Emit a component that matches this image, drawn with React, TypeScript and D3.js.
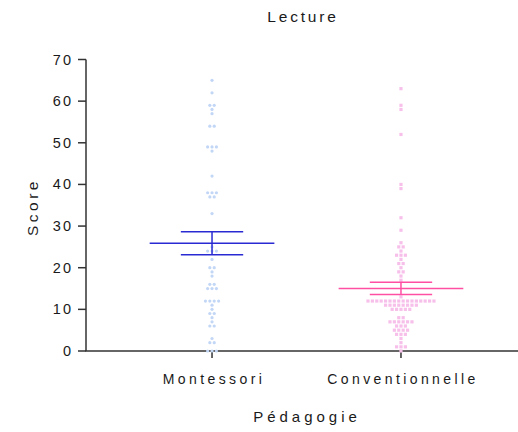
import React from 'react'
import * as d3 from 'd3'

const categories = ['Montessori', 'Conventionnelle']

const montessori = [
  65, 62, 59, 59, 58, 57, 54, 54, 49, 49, 49, 48, 42, 38, 38, 38, 37, 37, 33,
  25, 24, 24, 24, 22, 20, 20, 19, 18, 16, 16, 15, 15, 15, 12, 12, 12, 12, 11,
  10, 9, 9, 8, 7, 6, 6, 3, 2, 2, 0, 0, 0,
]

const conventionnelle = [
  63, 59, 58, 52, 40, 39, 32, 29, 26, 25, 25, 24, 23, 23, 23, 22, 21, 21, 20,
  19, 19, 18, 17, 13,
  12, 12, 12, 12, 12, 12, 12, 12, 12, 12, 12, 12, 12, 12, 12, 12,
  11, 11, 11, 11, 11, 11, 11, 11,
  10, 10, 10, 10, 10, 8, 8, 7, 7, 7, 7, 7, 7, 6, 6, 6, 5, 5, 5, 5,
  4, 4, 4, 3, 2, 1, 1, 1, 0,
]

const yTicks = [0, 10, 20, 30, 40, 50, 60, 70]

const groups = [
  { name: categories[0], values: montessori, dot: '#c2d6f6', line: '#2a2ad2', shape: 'circle' },
  { name: categories[1], values: conventionnelle, dot: '#f7c0ea', line: '#ff4fa3', shape: 'square' },
]

const W = 518
const H = 432
const font = 'Liberation Sans, Arial, sans-serif'
const axisColor = '#333'
const textColor = '#1a1a1a'

// spread points with the same value side by side
function spread(values: number[], gap: number) {
  const byValue = d3.group(values, (v) => v)
  const out: { v: number; dx: number }[] = []
  byValue.forEach((list, v) => {
    const n = list.length
    list.forEach((_, i) => out.push({ v, dx: (i - (n - 1) / 2) * gap }))
  })
  return out
}

export default function App() {
  const y = d3.scaleLinear().domain([0, 70]).range([351, 59.5])
  const x = d3.scalePoint<string>().domain(categories).range([86, 527]).padding(0.667)
  const step = x.step()

  return (
    <svg width={W} height={H} style={{ position: 'absolute', left: 0, top: 0 }} fontFamily={font}>
      <rect width={W} height={H} fill="#fff" />
      <text x={303} y={22} textAnchor="middle" fontSize={15.5} letterSpacing={2.8} fill={textColor}>
        Lecture
      </text>

      {/* y axis */}
      <g stroke={axisColor} strokeWidth={1.5}>
        <line x1={86} x2={86} y1={y(70)} y2={y(0)} />
        {yTicks.map((t) => (
          <line key={t} x1={78} x2={86} y1={y(t)} y2={y(t)} />
        ))}
      </g>
      {yTicks.map((t) => (
        <text key={t} x={73} y={y(t) + 5} textAnchor="end" fontSize={14.5} letterSpacing={2} fill={textColor}>
          {t}
        </text>
      ))}
      <text
        transform={`translate(38,207) rotate(-90)`}
        textAnchor="middle"
        fontSize={15.5}
        letterSpacing={3.5}
        fill={textColor}
      >
        Score
      </text>

      {/* x axis */}
      <g stroke={axisColor} strokeWidth={1.5}>
        <line x1={85.25} x2={527} y1={y(0)} y2={y(0)} />
        {categories.map((c) => (
          <line key={c} x1={x(c)} x2={x(c)} y1={y(0)} y2={y(0) + 7} />
        ))}
      </g>
      {categories.map((c) => (
        <text key={c} x={(x(c) as number) + 2} y={384} textAnchor="middle" fontSize={14} letterSpacing={3.4} fill={textColor}>
          {c}
        </text>
      ))}
      <text x={307} y={422} textAnchor="middle" fontSize={15} letterSpacing={4} fill={textColor}>
        Pédagogie
      </text>

      {/* points */}
      {groups.map((g) => {
        const cx = x(g.name) as number
        return (
          <g key={g.name}>
            {spread(g.values, 4.4).map((p, i) =>
              g.shape === 'circle' ? (
                <circle key={i} cx={cx + p.dx} cy={y(p.v)} r={1.6} fill={g.dot} />
              ) : (
                <rect key={i} x={cx + p.dx - 1.6} y={y(p.v) - 1.6} width={3.2} height={3.2} fill={g.dot} />
              )
            )}
          </g>
        )
      })}

      {/* mean and SEM */}
      {groups.map((g) => {
        const cx = x(g.name) as number
        const m = d3.mean(g.values) as number
        const sem = (d3.deviation(g.values) as number) / Math.sqrt(g.values.length)
        const hw = step * 0.33
        const cw = step * 0.165
        return (
          <g key={g.name} stroke={g.line} strokeWidth={1.5}>
            <line x1={cx - hw} x2={cx + hw} y1={y(m)} y2={y(m)} />
            <line x1={cx} x2={cx} y1={y(m + sem)} y2={y(m - sem)} />
            <line x1={cx - cw} x2={cx + cw} y1={y(m + sem)} y2={y(m + sem)} />
            <line x1={cx - cw} x2={cx + cw} y1={y(m - sem)} y2={y(m - sem)} />
          </g>
        )
      })}
    </svg>
  )
}
